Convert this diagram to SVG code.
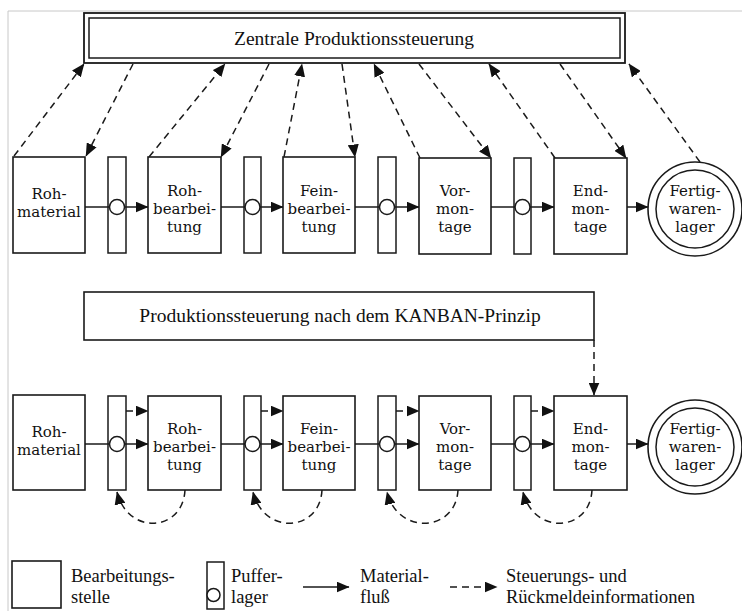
<svg xmlns="http://www.w3.org/2000/svg" width="742" height="611" viewBox="0 0 742 611">
<style>
.bx{fill:#fff;stroke:#1a1a1a;stroke-width:1.6}
.pf{fill:none;stroke:#1a1a1a;stroke-width:1.5}
.pc{fill:#fff;stroke:#1a1a1a;stroke-width:1.5}
.fl{fill:none;stroke:#1a1a1a;stroke-width:1.5}
.da{fill:none;stroke:#1a1a1a;stroke-width:1.5;stroke-dasharray:7 5}
.t{font-family:"DejaVu Serif","Liberation Serif",serif;font-size:15px;fill:#111;text-anchor:middle}
.h{font-family:"Liberation Serif","Times New Roman",serif;font-size:19.5px;fill:#111;text-anchor:middle}
.lg{font-family:"Liberation Serif","Times New Roman",serif;font-size:18.5px;fill:#111}
</style>
<defs>
<marker id="ah" viewBox="0 0 13 11" markerWidth="13" markerHeight="11" refX="12.5" refY="5.5" orient="auto" markerUnits="userSpaceOnUse">
<path d="M0,0 L13,5.5 L0,11 z" fill="#111"/>
</marker>
</defs>
<rect width="742" height="611" fill="#fff"/>
<path d="M8,611 V11 H742" fill="none" stroke="#c8c8c8" stroke-width="1"/>

<g id="connectors">
<path class="da" d="M14,156 L84,64" marker-end="url(#ah)"/>
<path class="da" d="M133,64 L86,156" marker-end="url(#ah)"/>
<path class="da" d="M149,157 L225,64" marker-end="url(#ah)"/>
<path class="da" d="M269,64 L221,157" marker-end="url(#ah)"/>
<path class="da" d="M284,157 L302,64" marker-end="url(#ah)"/>
<path class="da" d="M342,64 L355,157" marker-end="url(#ah)"/>
<path class="da" d="M420,158 L374,64" marker-end="url(#ah)"/>
<path class="da" d="M419,64 L491,158" marker-end="url(#ah)"/>
<path class="da" d="M555,158 L489,64" marker-end="url(#ah)"/>
<path class="da" d="M560,64 L626,158" marker-end="url(#ah)"/>
<path class="da" d="M700,162 L629,64" marker-end="url(#ah)"/>
<path class="fl" d="M85,207 H148" marker-end="url(#ah)"/>
<path class="fl" d="M221,207 H283" marker-end="url(#ah)"/>
<path class="fl" d="M355,207 H419" marker-end="url(#ah)"/>
<path class="fl" d="M491,207 H554" marker-end="url(#ah)"/>
<path class="fl" d="M627,207 H648" marker-end="url(#ah)"/>
<path class="fl" d="M85,444 H148" marker-end="url(#ah)"/>
<path class="fl" d="M221,444 H283" marker-end="url(#ah)"/>
<path class="fl" d="M355,444 H419" marker-end="url(#ah)"/>
<path class="fl" d="M491,444 H554" marker-end="url(#ah)"/>
<path class="fl" d="M627,444 H648" marker-end="url(#ah)"/>
<path class="da" d="M126,411 H148" marker-end="url(#ah)"/>
<path class="da" d="M261,411 H283" marker-end="url(#ah)"/>
<path class="da" d="M396,411 H419" marker-end="url(#ah)"/>
<path class="da" d="M531,411 H554" marker-end="url(#ah)"/>
<path class="da" d="M185,490 C183,532 128,536 117,492" marker-end="url(#ah)"/>
<path class="da" d="M322,490 C320,532 264,536 253,492" marker-end="url(#ah)"/>
<path class="da" d="M458,490 C456,532 398,536 387,492" marker-end="url(#ah)"/>
<path class="da" d="M592,490 C590,532 534,536 523,492" marker-end="url(#ah)"/>
<path class="da" d="M594,340 V395" marker-end="url(#ah)"/>
</g>

<g id="zentrale">
<rect x="84" y="13" width="541" height="50" fill="#fff" stroke="#1a1a1a" stroke-width="1.8"/>
<rect x="89" y="18" width="531" height="40" fill="none" stroke="#1a1a1a" stroke-width="1.5"/>
<text class="h" x="354" y="45">Zentrale Produktionssteuerung</text>
</g>

<g id="kanban">
<rect class="bx" x="84" y="292" width="510" height="48"/>
<text class="h" x="340" y="322">Produktionssteuerung nach dem KANBAN-Prinzip</text>
</g>

<g id="r1-rohmaterial"><rect class="bx" x="13" y="157" width="72" height="96"/>
<text class="t" x="49" y="199">Roh-</text><text class="t" x="49" y="217">material</text></g>
<g id="r1-puffer1"><rect class="pf" x="108" y="157" width="18" height="96"/><circle class="pc" cx="117" cy="207" r="7.5"/></g>
<g id="r1-rohbearbeitung"><rect class="bx" x="148" y="157" width="73" height="96"/>
<text class="t" x="184.5" y="196">Roh-</text><text class="t" x="184.5" y="214">bearbei-</text><text class="t" x="184.5" y="232">tung</text></g>
<g id="r1-puffer2"><rect class="pf" x="244" y="157" width="17" height="96"/><circle class="pc" cx="252.5" cy="207" r="7.5"/></g>
<g id="r1-feinbearbeitung"><rect class="bx" x="283" y="157" width="72" height="96"/>
<text class="t" x="319" y="196">Fein-</text><text class="t" x="319" y="214">bearbei-</text><text class="t" x="319" y="232">tung</text></g>
<g id="r1-puffer3"><rect class="pf" x="378" y="157" width="18" height="96"/><circle class="pc" cx="387" cy="207" r="7.5"/></g>
<g id="r1-vormontage"><rect class="bx" x="419" y="158" width="72" height="96"/>
<text class="t" x="455" y="196">Vor-</text><text class="t" x="455" y="214">mon-</text><text class="t" x="455" y="232">tage</text></g>
<g id="r1-puffer4"><rect class="pf" x="514" y="158" width="17" height="96"/><circle class="pc" cx="522.5" cy="207" r="7.5"/></g>
<g id="r1-endmontage"><rect class="bx" x="554" y="158" width="73" height="96"/>
<text class="t" x="590.5" y="196">End-</text><text class="t" x="590.5" y="214">mon-</text><text class="t" x="590.5" y="232">tage</text></g>
<g id="r1-fertigwarenlager"><circle class="bx" cx="695" cy="209" r="47"/><circle class="pf" cx="695" cy="209" r="39"/>
<text class="t" x="695" y="196">Fertig-</text><text class="t" x="695" y="214">waren-</text><text class="t" x="695" y="232">lager</text></g>

<g id="r2-rohmaterial"><rect class="bx" x="13" y="395" width="72" height="95"/>
<text class="t" x="49" y="437">Roh-</text><text class="t" x="49" y="455">material</text></g>
<g id="r2-puffer1"><rect class="pf" x="108" y="396" width="18" height="94"/><circle class="pc" cx="117" cy="444" r="7.5"/></g>
<g id="r2-rohbearbeitung"><rect class="bx" x="148" y="396" width="73" height="94"/>
<text class="t" x="184.5" y="434">Roh-</text><text class="t" x="184.5" y="452">bearbei-</text><text class="t" x="184.5" y="470">tung</text></g>
<g id="r2-puffer2"><rect class="pf" x="244" y="396" width="17" height="94"/><circle class="pc" cx="252.5" cy="444" r="7.5"/></g>
<g id="r2-feinbearbeitung"><rect class="bx" x="283" y="396" width="72" height="94"/>
<text class="t" x="319" y="434">Fein-</text><text class="t" x="319" y="452">bearbei-</text><text class="t" x="319" y="470">tung</text></g>
<g id="r2-puffer3"><rect class="pf" x="378" y="396" width="18" height="94"/><circle class="pc" cx="387" cy="444" r="7.5"/></g>
<g id="r2-vormontage"><rect class="bx" x="419" y="396" width="72" height="94"/>
<text class="t" x="455" y="434">Vor-</text><text class="t" x="455" y="452">mon-</text><text class="t" x="455" y="470">tage</text></g>
<g id="r2-puffer4"><rect class="pf" x="514" y="396" width="17" height="94"/><circle class="pc" cx="522.5" cy="444" r="7.5"/></g>
<g id="r2-endmontage"><rect class="bx" x="554" y="396" width="73" height="94"/>
<text class="t" x="590.5" y="434">End-</text><text class="t" x="590.5" y="452">mon-</text><text class="t" x="590.5" y="470">tage</text></g>
<g id="r2-fertigwarenlager"><circle class="bx" cx="695" cy="447" r="47"/><circle class="pf" cx="695" cy="447" r="39"/>
<text class="t" x="695" y="434">Fertig-</text><text class="t" x="695" y="452">waren-</text><text class="t" x="695" y="470">lager</text></g>

<g id="legend">
<rect class="bx" x="12" y="561" width="49" height="47"/>
<text class="lg" x="71" y="582">Bearbeitungs-</text><text class="lg" x="71" y="603">stelle</text>
<rect class="pf" x="207" y="562" width="17" height="47"/><circle class="pc" cx="213.5" cy="595" r="6.5"/>
<text class="lg" x="231" y="582">Puffer-</text><text class="lg" x="231" y="603">lager</text>
<path class="fl" d="M303,587 H349" marker-end="url(#ah)"/>
<text class="lg" x="360" y="582">Material-</text><text class="lg" x="360" y="603">fluß</text>
<path class="da" d="M450,587 H497" marker-end="url(#ah)"/>
<text class="lg" x="506" y="582">Steuerungs- und</text><text class="lg" x="506" y="603">Rückmeldeinformationen</text>
</g>
</svg>
